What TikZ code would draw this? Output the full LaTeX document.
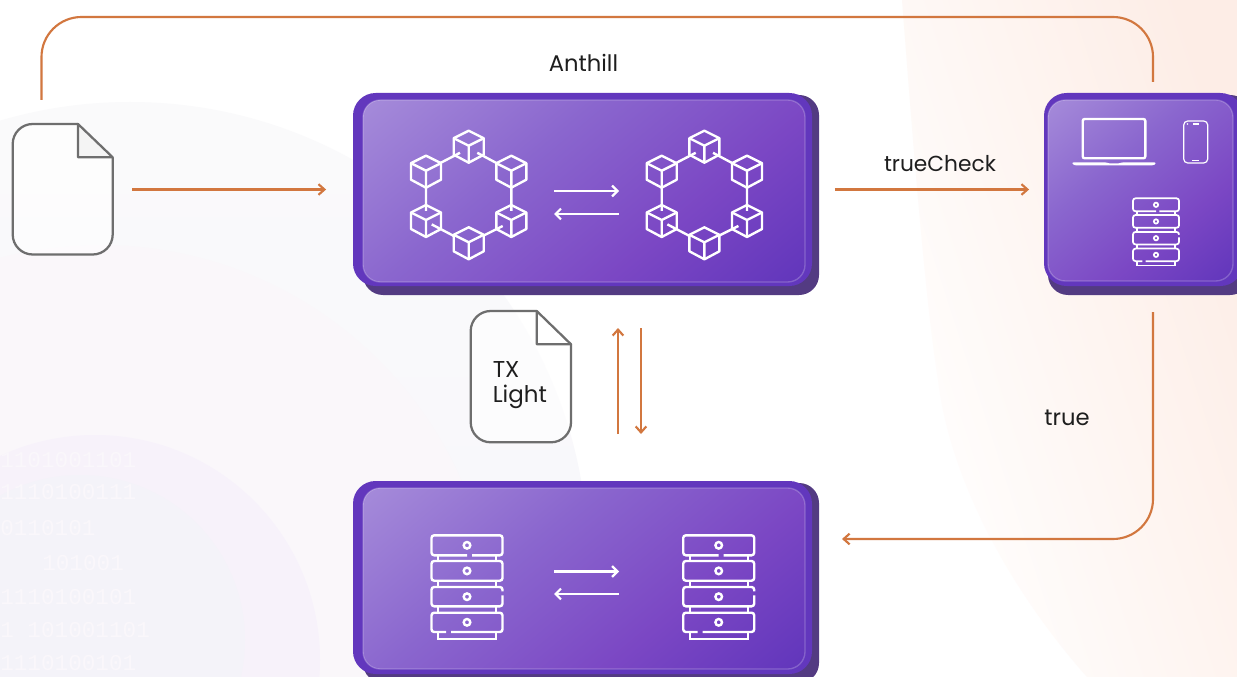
\documentclass[tikz,border=0pt]{standalone}
\usepackage{fontspec}
\setmainfont{Poppins}
\newfontfamily\binfont{Liberation Mono}
\usetikzlibrary{arrows.meta,calc}
\definecolor{rim}{HTML}{6237BD}
\definecolor{shadowc}{HTML}{533B82}
\definecolor{gA}{HTML}{A88FDB}
\definecolor{gB}{HTML}{8A66CE}
\definecolor{gC}{HTML}{7B47C4}
\definecolor{gD}{HTML}{6035BB}
\definecolor{conn}{HTML}{D2773F}
\definecolor{filec}{HTML}{6E6E6E}
\definecolor{lab}{HTML}{1E1E1E}
\definecolor{bgA}{HTML}{FAFAFB}
\definecolor{bgB}{HTML}{F6F5FA}
\definecolor{bgC}{HTML}{FAF7FA}
\definecolor{bgD}{HTML}{F7F2FA}
\definecolor{bgE}{HTML}{F4F3F9}
\definecolor{bgF}{HTML}{FDEDE6}
\definecolor{bgG}{HTML}{FFFFFF}
\definecolor{bin}{HTML}{FAF7FB}
\pgfdeclareverticalshading{boxgrad}{100bp}{color(0bp)=(gD); color(14bp)=(gD); color(36bp)=(gC); color(60bp)=(gB); color(88bp)=(gA); color(100bp)=(gA)}
\newlength{\px}\setlength{\px}{0.75pt}
\tikzset{
  conline/.style={draw=conn,line width=1.6pt,-{Straight Barb[length=4.5pt,width=8pt,line width=1.6pt]}},
  conplain/.style={draw=conn,line width=1.6pt,rounded corners=30pt},
  wline/.style={draw=white,line width=1.8pt},
  warrow/.style={draw=white,line width=1.7pt,-{Straight Barb[length=4pt,width=8pt,line width=1.7pt]}},
  filepath/.style={draw=filec,line width=1.7pt,fill=white,fill opacity=.6,line join=round},
  label/.style={text=lab,font=\fontsize{16.3}{19}\selectfont,inner sep=0pt},
  bintext/.style={text=bin,font=\binfont\fontsize{17}{17}\selectfont,inner sep=0pt,anchor=west},
  cube/.pic={
    \draw[wline,line join=round] (0,-16)--(15,-8.5)--(15,8)--(0,16)--(-15,8)--(-15,-8.5)--cycle;
    \draw[wline,line join=round] (-15,-8.5)--(0,-1)--(15,-8.5) (0,-1)--(0,16);
  },
  network/.pic={
    \foreach \a/\b in {42.7/-25,85.3/0,85.3/49.3,42.7/71.6,0/49.3,0/0}{
      \pic at (\a,\b) {cube};
    }
    \draw[wline] (14.7,-8.9)--(34,-18.9) (51.3,-18.9)--(70,-8.9)
      (85.3,16)--(85.3,39.3) (76.7,54.3)--(57.3,64) (27.3,64)--(5.7,52.7) (0,16)--(0,39.3);
  },
  unitpart/.style={wline,rounded corners=2pt},
  server/.pic={
    \draw[unitpart] (5,20)--(35.5,20)--(35.5,0)--(-35.5,0)--(-35.5,20)--(0,20);
    \draw[unitpart] (-35.5,25.7) rectangle (35.5,45.4);
    \draw[unitpart] (35.5,60)--(35.5,71)--(-35.5,71)--(-35.5,51.7)--(35.5,51.7)--(35.5,56);
    \draw[unitpart] (-21,96.7)--(-35.5,96.7)--(-35.5,77.4)--(35.5,77.4)--(35.5,96.7)--(-16,96.7);
    \draw[wline] (-29,20)--(-29,25.7) (29,20)--(29,25.7)
      (-29,45.4)--(-29,51.7) (29,45.4)--(29,51.7)
      (-29,71)--(-29,77.4) (29,71)--(29,77.4)
      (-29,96.7)--(-29,103.4)--(29,103.4)--(29,96.7);
    \foreach \y in {10,35.6,61.4,87}{\draw[wline] (0,\y) circle (3.3);}
  }
}
% gbox name x1 y1 x2 y2 faceleft faceright facebottom shadowleft
\newcommand{\gbox}[9]{%
  \pgfmathsetmacro{\cxv}{(#2+#4)/2}\pgfmathsetmacro{\cyv}{(#3+#5)/2}%
  \pgfmathsetmacro{\wv}{#4-#2}\pgfmathsetmacro{\hv}{#5-#3}%
  \fill[shadowc,rounded corners=15pt] (#9,#3+2) rectangle (#4+7,#5+9);
  \node[fill=rim,rounded corners=17pt,inner sep=0pt,minimum width=\wv\px,minimum height=\hv\px] (#1) at (\cxv,\cyv) {};
  \shade[shading=boxgrad,shading angle=40,draw=white,draw opacity=.22,line width=1pt,rounded corners=13pt] (#6,#3+7) rectangle (#7,#8);
}
\begin{document}
\begin{tikzpicture}[x=0.75pt,y=-0.75pt]
\useasboundingbox (0,0) rectangle (1237,677);
\clip (0,0) rectangle (1237,677);
% background
\fill[white] (0,0) rectangle (1237,677);
\shade[top color=bgF,bottom color=bgG,shading angle=-72]
  (902,0) .. controls (912,130) and (925,300) .. (938,380)
  .. controls (950,480) and (1010,590) .. (1087,677) -- (1237,677) -- (1237,0) -- cycle;
\shade[top color=bgA,bottom color=bgB] (130,560) circle (458);
\fill[bgC] (100,640) circle (395);
\fill[bgD] (95,660) circle (225);
\fill[bgE] (80,640) circle (165);
\begin{scope}
\clip (0,430) rectangle (190,677);
\node[bintext] (b1) at (0,460) {1101001101};
\node[bintext] (b2) at (0,492) {1110100111};
\node[bintext] (b3) at (0,528) {0110101};
\node[bintext] (b4) at (42,563) {101001};
\node[bintext] (b5) at (0,597) {1110100101};
\node[bintext] (b6) at (0,630) {1 101001101};
\node[bintext] (b7) at (0,663) {1110100101};
\end{scope}

% boxes
\gbox{anthill}{353}{93}{812}{286}{363}{805}{282}{363}
\gbox{devices}{1044}{93}{1243}{286}{1048}{1233}{281}{1048}
\gbox{validators}{353}{481}{812}{674}{363}{805}{669}{363}

% network icons
\pic at (426,171.7) {network};
\pic at (661.7,171.7) {network};
\draw[warrow] (554,191)--(619,191);
\draw[warrow] (619,214)--(554,214);

% servers
\pic at (467,535.3) {server};
\pic at (718.7,535.3) {server};
\draw[warrow] (554,571.5)--(619,571.5);
\draw[warrow] (619,594)--(554,594);

% device icons
\draw[wline,rounded corners=1.5pt] (1082.7,119) rectangle (1145.3,158.3);
\fill[white,rounded corners=1pt] (1072.3,162.3)--(1106,162.3)--(1108,163.3)--(1120,163.3)--(1122,162.3)--(1155.7,162.3)--(1155.7,164)--(1153,165.4)--(1075,165.4)--(1072.3,164)--cycle;
\draw[white,line width=.9pt,rounded corners=3pt] (1183.7,121) rectangle (1207.7,163);
\draw[white,line width=.9pt] (1193,124)--(1199,124) (1192,160.5)--(1199,160.5);
\fill[white] (1187.5,124) circle (.9);
\begin{scope}[wline/.style={draw=white,line width=1.3pt}]
\pic[scale=.65] at (1156,198.3) {server};
\end{scope}

% files
\node[minimum width=100\px,minimum height=131\px,inner sep=0pt] (doc) at (62.7,189.5) {};
\draw[filepath,rounded corners=15pt] (78,124)--(12.7,124)--(12.7,254.5)--(112.7,254.5)--(112.7,157.3);
\fill[filec!8] (78,124)--(112.7,157.3)--(78,157.3)--cycle;
\draw[filec,line width=1.7pt,line join=round] (112.7,157.3)--(78,124)--(78,157.3)--cycle;

\node[minimum width=100\px,minimum height=131\px,inner sep=0pt] (txdoc) at (520.8,376.7) {};
\draw[filepath,rounded corners=15pt] (536.7,311)--(470.7,311)--(470.7,442.3)--(571,442.3)--(571,344.3);
\draw[filec,line width=1.7pt,line join=round] (571,344.3)--(536.7,311)--(536.7,344.3)--cycle;
\node[label,align=left,anchor=west,font=\fontsize{17.2}{19.2}\selectfont] (txlab) at (492.5,385) {TX\\Light};

% labels
\node[label,font=\fontsize{17}{19}\selectfont] (lanthill) at (583.5,63) {Anthill};
\node[label] (ltrue) at (940,163.5) {trueCheck};
\node[label,font=\fontsize{17}{19}\selectfont] (ltruev) at (1067,418) {true};

% connectors
\coordinate (topa) at (41.5,100);
\coordinate (topb) at (1153,82);
\coordinate (truea) at (1153,312);
\coordinate (trueb) at (842,539);
\coordinate (upa) at (618,434);
\coordinate (upb) at (618,328);
\coordinate (dna) at (641,328);
\coordinate (dnb) at (641,434);
\draw[conline,yshift=-.75pt,shorten <=14.5pt,shorten >=20pt] (doc.east) -- (anthill.west);
\draw[conline,yshift=-.75pt,shorten <=17pt,shorten >=11pt] (anthill.east) -- (devices.west);
\draw[conline] (upa) -- (upb);
\draw[conline] (dna) -- (dnb);
\draw[conplain] (topa) -- (41.5,17) -- (1153,17) -- (topb);
\draw[conline,rounded corners=30pt] (truea) -- (1153,539) -- (trueb);
\end{tikzpicture}
\end{document}
